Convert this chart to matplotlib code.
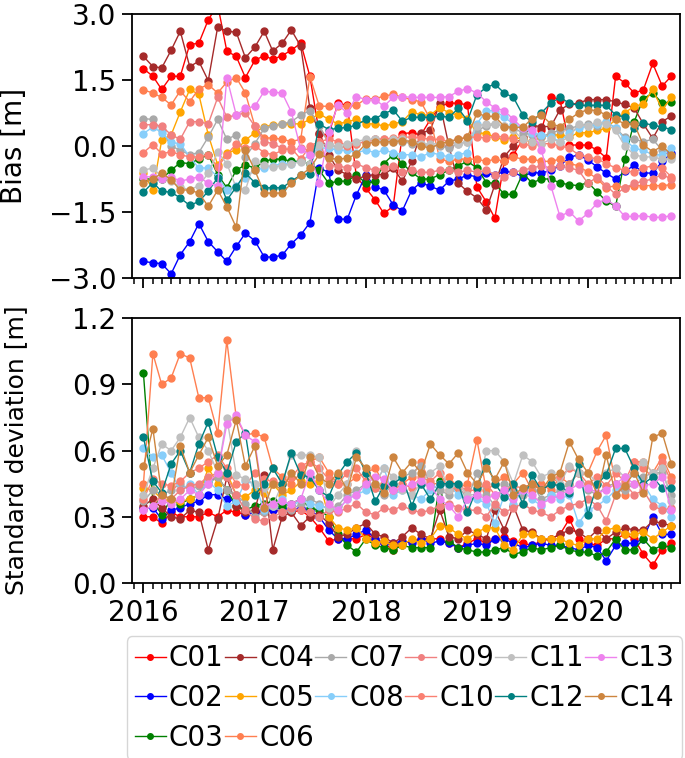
import numpy as np
import pandas as pd
import matplotlib
matplotlib.use("Agg")
import matplotlib.pyplot as plt
import matplotlib.dates as mdates
from datetime import datetime

# monthly values, Jan 2016 .. Oct 2020
months = pd.date_range("2016-01-01", periods=58, freq="MS")

sats = ["C01", "C02", "C03", "C04", "C05", "C06", "C07",
        "C08", "C09", "C10", "C11", "C12", "C13", "C14"]
colors = ["red", "blue", "green", "brown", "orange", "coral", "darkgray",
          "lightskyblue", "lightcoral", "salmon", "silver", "teal", "violet", "peru"]

# ---- bias [m] ----
bias_C01 = [1.75, 1.58, 1.28, 1.58, 1.58, 2.3, 2.33, 2.86, 3.2, 2.15, 2.03, 1.55,
            1.94, 2.05, 1.96, 2.05, 2.17, 2.33, 1.58, 0.28, 0.25, 0.97, 0.92, -0.7,
            -0.96, -1.23, -1.53, -1.37, 0.28, 0.3, 0.25, 0.6, 0.89, 0.97, 0.97, 0.93,
            -0.93, -1.27, -1.64, -0.35, -0.2, 0.15, 0.1, 0.35, 1.12, 1.05, 0.02, 0.02,
            0.02, -0.1, -0.27, 1.58, 1.43, 1.2, 1.27, 1.87, 1.36, 1.58]
bias_C02 = [-2.62, -2.65, -2.67, -2.9, -2.47, -2.17, -1.76, -2.17, -2.4, -2.62, -2.28, -1.98,
            -2.15, -2.52, -2.52, -2.48, -2.22, -2.02, -1.74, -0.5, -0.6, -1.66, -1.66, -1.11,
            -0.66, -0.93, -1.0, -1.34, -1.47, -1.0, -0.83, -0.92, -1.0, -0.8, -0.75, -0.66,
            -0.7, -0.62, -0.66, -0.58, -0.6, -0.7, -0.6, -0.62, -0.55, -0.45, -0.26, -0.2,
            -0.32, -0.48, -0.62, -0.75, -0.58, -0.44, -0.61, -0.62, -0.35, -0.17]
bias_C03 = [-0.75, -0.75, -0.75, -0.55, -0.38, -0.4, -0.3, -0.2, -0.65, -0.95, -0.55, -0.43,
            -0.5, -0.35, -0.3, -0.3, -0.35, -0.35, -0.4, -0.55, -0.85, -0.8, -0.8, -0.65,
            -0.85, -0.8, -0.4, -0.2, -0.4, -0.6, -0.75, -0.75, -0.65, -0.55, -0.45, -0.35,
            -0.5, -0.83, -0.85, -1.1, -1.1, -0.62, -0.84, -0.75, -0.75, -0.84, -0.88, -0.9,
            -0.83, -1.05, -1.25, -1.37, -0.3, 0.55, 1.07, 1.2, 0.97, 1.0]
bias_C04 = [2.03, 1.8, 1.77, 2.17, 2.6, 1.8, 1.92, 1.48, 2.7, 2.6, 2.58, 2.0,
            2.24, 2.6, 2.15, 2.33, 2.63, 2.26, 0.85, 0.3, -0.2, -0.55, -0.65, -0.75,
            -0.68, -0.65, -0.65, -0.5, -0.8, -0.35, 0.3, 0.35, 0.97, 0.0, -0.85, -1.03,
            -1.18, -1.45, -0.88, -0.24, 0.0, 0.2, 0.46, 0.44, 0.44, 0.82, 0.94, 0.97,
            1.05, 1.05, 1.05, 1.0, 0.94, 0.86, 0.5, 0.17, 0.55, 0.68]
bias_C05 = [-0.61, -1.0, 0.13, 0.25, 0.77, 1.28, 1.17, 0.25, -0.43, -0.15, -0.1, 0.13,
            0.3, 0.44, 0.47, 0.5, 0.5, 0.5, 0.6, 0.73, 0.6, 0.5, 0.55, 0.6,
            0.5, 0.5, 0.45, 0.5, 0.55, 0.78, 0.7, 0.7, 0.87, 0.75, 0.7, 0.6,
            0.3, 0.28, 0.2, 0.13, 0.2, 0.15, 0.1, 0.2, 0.25, 0.25, 0.2, 0.3,
            0.3, 0.35, 0.4, 0.6, 0.75, 0.9, 0.95, 1.28, 0.82, 1.1]
bias_C06 = [1.27, 1.2, 1.1, 0.93, 1.25, 1.0, 1.3, 1.39, 1.2, 1.45, 1.55, 1.2,
            0.45, 0.18, 0.18, 0.15, 0.1, 0.15, 1.57, 0.9, 0.9, 0.9, 0.9, 0.92,
            1.07, 1.07, 1.13, 1.17, 1.1, 1.05, 1.0, 0.6, -0.3, -0.35, -0.3, -0.3,
            -0.3, -0.35, -0.3, -0.35, -0.25, -0.3, -0.3, -0.35, -0.35, -0.3, -0.4, -0.45,
            -0.6, -0.75, -0.95, -0.9, -0.95, -0.9, -0.9, -0.9, -0.9, -0.88]
bias_C07 = [0.62, 0.6, 0.35, 0.0, -0.1, -0.2, -0.15, 0.2, 0.6, 0.15, 0.25, -0.25,
            0.05, 0.4, 0.45, 0.5, 0.55, 0.7, 0.8, 0.45, 0.05, -0.05, 0.0, 0.05,
            0.1, 0.15, 0.15, 0.1, 0.1, 0.05, 0.05, 0.0, 0.0, -0.05, 0.05, 0.1,
            0.35, 0.45, 0.5, 0.45, 0.4, 0.3, 0.25, 0.2, 0.3, 0.35, 0.4, 0.45,
            0.5, 0.45, 0.55, 0.4, 0.2, 0.15, 0.1, 0.15, -0.1, -0.25]
bias_C08 = [0.28, 0.43, 0.3, 0.08, 0.05, -0.25, -0.5, -0.5, -0.7, -1.0, -0.9, -0.72,
            -0.55, -0.5, -0.45, -0.4, -0.4, -0.35, -0.2, -0.05, -0.05, -0.1, -0.1, -0.15,
            -0.1, -0.15, -0.1, -0.15, -0.2, -0.2, -0.25, -0.15, -0.2, -0.25, -0.2, -0.15,
            0.5, 0.8, 0.8, 0.65, 0.5, 0.4, 0.3, 0.25, 0.2, 0.1, 0.3, 0.4,
            0.45, 0.5, 0.55, 0.4, 0.15, -0.05, -0.1, -0.2, -0.2, -0.05]
bias_C09 = [0.48, 0.48, 0.45, 0.25, 0.15, 0.55, 0.55, 0.5, 1.1, 0.65, 0.7, 0.75,
            0.45, 0.1, 0.05, -0.05, -0.1, -0.05, -0.1, 0.1, -0.45, -0.45, -0.5, -0.4,
            -0.5, -0.55, -0.5, -0.45, -0.6, -0.55, -0.6, -0.6, -0.55, -0.55, -0.6, -0.55,
            -0.6, -0.55, -0.65, -0.7, -0.6, -0.55, -0.5, -0.45, -0.5, -0.45, -0.5, -0.55,
            -0.85, -0.7, -0.9, -1.1, -0.95, -0.85, -0.8, -0.75, -0.65, -0.75]
bias_C10 = [-0.15, 0.03, -0.18, -0.13, -0.2, -0.25, -0.25, -0.2, -0.48, -0.2, 0.05, -0.05,
            0.0, -0.15, -0.2, -0.1, -0.05, -0.3, 0.0, 0.1, 0.15, 0.1, 0.0, 0.05,
            0.1, 0.15, 0.15, 0.18, 0.2, 0.2, 0.18, 0.15, 0.15, 0.1, 0.15, 0.2,
            0.2, 0.18, 0.22, 0.2, 0.15, 0.05, 0.0, 0.05, 0.05, 0.0, -0.05, -0.2,
            -0.25, -0.3, -0.4, -0.5, -0.55, -0.6, -0.5, -0.45, -0.5, -0.7]
bias_C11 = [-0.55, -0.5, -0.7, -0.8, -0.93, -1.0, -0.9, -0.62, -0.14, -0.4, -0.95, -1.0,
            -0.35, -0.44, -0.47, -0.45, -0.4, -0.36, -0.4, 0.03, 0.02, 0.0, 0.05, 0.1,
            0.15, 0.15, 0.1, 0.15, 0.15, 0.1, 0.05, 0.05, 0.05, 0.1, 0.05, 0.1,
            0.45, 0.5, 0.5, 0.45, 0.35, 0.15, 0.1, 0.05, 0.15, 0.1, 0.2, 0.5,
            0.45, 0.55, 0.5, 0.35, 0.0, -0.2, -0.25, -0.25, -0.3, -0.3]
bias_C12 = [-1.05, -0.83, -1.03, -1.05, -1.18, -1.35, -1.26, -1.03, -0.72, -1.23, -0.93, -0.62,
            -0.83, -0.95, -0.95, -0.95, -0.8, -0.66, -0.63, 0.5, 0.37, 0.4, 0.42, 0.47,
            0.6, 0.62, 0.73, 0.82, 0.56, 0.65, 0.65, 0.65, 0.68, 0.65, 0.85, 0.57,
            1.16, 1.33, 1.4, 1.2, 1.1, 0.7, 0.55, 0.75, 0.97, 1.1, 0.97, 0.92,
            0.92, 0.92, 0.92, 0.7, 0.66, 0.4, 0.52, 0.47, 0.43, 0.37]
bias_C13 = [-0.7, -0.7, -0.75, -0.7, -0.8, -0.75, -0.7, -0.85, -0.9, 1.55, 0.7, 0.85,
            0.9, 1.24, 1.22, 1.2, 0.77, -0.08, -0.2, -0.84, 0.32, 0.93, 0.75, 1.12,
            1.05, 1.05, 0.9, 1.1, 1.12, 1.1, 1.1, 1.1, 1.1, 1.12, 1.24, 1.3,
            1.2, 1.0, 0.86, 0.8, 0.6, 0.4, 0.36, -0.1, -0.9, -1.6, -1.49, -1.7,
            -1.53, -1.29, -1.21, -1.36, -1.6, -1.6, -1.58, -1.62, -1.62, -1.58]
bias_C14 = [-0.83, -0.76, -0.61, -0.77, -1.0, -1.0, -1.07, -1.37, -1.0, -1.38, -1.85, -0.1,
            -0.55, -1.07, -1.07, -1.07, -0.85, -0.66, -0.51, -0.19, -0.28, -0.3, -0.28, -0.18,
            0.05, 0.09, 0.09, 0.1, 0.12, 0.1, 0.0, -0.05, 0.05, 0.1, 0.15, 0.2,
            0.74, 0.67, 0.67, 0.44, 0.42, 0.42, 0.62, 0.7, 0.5, 0.44, 0.6, 0.75,
            0.82, 0.8, 0.7, 0.6, 0.5, 0.5, 0.02, -0.13, 0.0, -0.2]

# ---- standard deviation [m] ----
std_C01 = [0.3, 0.3, 0.27, 0.32, 0.3, 0.3, 0.3, 0.32, 0.3, 0.33, 0.32, 0.31,
           0.32, 0.32, 0.33, 0.33, 0.32, 0.33, 0.3, 0.25, 0.19, 0.2, 0.2, 0.2,
           0.22, 0.2, 0.18, 0.15, 0.18, 0.19, 0.2, 0.2, 0.2, 0.18, 0.16, 0.18,
           0.2, 0.18, 0.2, 0.21, 0.19, 0.18, 0.17, 0.19, 0.2, 0.22, 0.29, 0.2,
           0.18, 0.17, 0.2, 0.2, 0.22, 0.2, 0.13, 0.08, 0.15, 0.18]
std_C02 = [0.34, 0.34, 0.29, 0.33, 0.34, 0.36, 0.37, 0.4, 0.4, 0.38, 0.37, 0.31,
           0.32, 0.33, 0.33, 0.34, 0.33, 0.34, 0.33, 0.3, 0.24, 0.2, 0.2, 0.22,
           0.24, 0.2, 0.18, 0.18, 0.19, 0.18, 0.2, 0.18, 0.19, 0.18, 0.16, 0.17,
           0.18, 0.17, 0.2, 0.2, 0.18, 0.16, 0.17, 0.18, 0.17, 0.17, 0.16, 0.15,
           0.17, 0.16, 0.1, 0.17, 0.18, 0.18, 0.2, 0.3, 0.22, 0.22]
std_C03 = [0.95, 0.37, 0.31, 0.38, 0.36, 0.38, 0.4, 0.46, 0.48, 0.42, 0.35, 0.33,
           0.35, 0.36, 0.37, 0.35, 0.36, 0.38, 0.34, 0.33, 0.3, 0.22, 0.17, 0.14,
           0.2, 0.17, 0.16, 0.15, 0.17, 0.16, 0.16, 0.16, 0.46, 0.19, 0.16, 0.15,
           0.14, 0.14, 0.15, 0.16, 0.13, 0.14, 0.16, 0.15, 0.16, 0.17, 0.15, 0.14,
           0.14, 0.12, 0.14, 0.2, 0.15, 0.15, 0.2, 0.15, 0.17, 0.16]
std_C04 = [0.35, 0.38, 0.34, 0.3, 0.29, 0.33, 0.32, 0.15, 0.29, 0.48, 0.35, 0.32,
           0.33, 0.49, 0.15, 0.3, 0.32, 0.26, 0.3, 0.31, 0.27, 0.21, 0.22, 0.25,
           0.27, 0.22, 0.21, 0.18, 0.21, 0.25, 0.22, 0.2, 0.33, 0.21, 0.2, 0.24,
           0.22, 0.2, 0.33, 0.24, 0.35, 0.24, 0.23, 0.2, 0.2, 0.22, 0.24, 0.23,
           0.2, 0.24, 0.2, 0.23, 0.25, 0.24, 0.24, 0.28, 0.27, 0.26]
std_C05 = [0.43, 0.42, 0.38, 0.37, 0.37, 0.38, 0.4, 0.52, 0.45, 0.5, 0.4, 0.39,
           0.42, 0.41, 0.45, 0.4, 0.42, 0.46, 0.45, 0.46, 0.3, 0.25, 0.24, 0.25,
           0.2, 0.18, 0.19, 0.17, 0.17, 0.2, 0.18, 0.2, 0.26, 0.25, 0.22, 0.2,
           0.23, 0.25, 0.25, 0.17, 0.15, 0.22, 0.22, 0.2, 0.2, 0.2, 0.18, 0.17,
           0.2, 0.2, 0.24, 0.25, 0.22, 0.22, 0.23, 0.2, 0.23, 0.26]
std_C06 = [0.45, 1.04, 0.9, 0.93, 1.04, 1.02, 0.84, 0.84, 0.68, 1.1, 0.75, 0.67,
           0.68, 0.66, 0.52, 0.48, 0.45, 0.5, 0.55, 0.57, 0.5, 0.45, 0.45, 0.48,
           0.5, 0.52, 0.45, 0.42, 0.45, 0.48, 0.55, 0.45, 0.45, 0.48, 0.43, 0.45,
           0.65, 0.42, 0.45, 0.48, 0.45, 0.5, 0.42, 0.45, 0.42, 0.48, 0.45, 0.5,
           0.5, 0.6, 0.67, 0.45, 0.4, 0.55, 0.55, 0.5, 0.57, 0.48]
std_C07 = [0.37, 0.42, 0.4, 0.42, 0.45, 0.42, 0.44, 0.45, 0.48, 0.42, 0.4, 0.36,
           0.3, 0.32, 0.35, 0.32, 0.33, 0.36, 0.38, 0.36, 0.33, 0.35, 0.4, 0.42,
           0.45, 0.43, 0.4, 0.45, 0.48, 0.5, 0.53, 0.45, 0.42, 0.4, 0.44, 0.38,
           0.5, 0.4, 0.35, 0.45, 0.42, 0.4, 0.45, 0.38, 0.4, 0.42, 0.45, 0.5,
           0.42, 0.4, 0.44, 0.45, 0.42, 0.45, 0.48, 0.5, 0.5, 0.4]
std_C08 = [0.61, 0.57, 0.58, 0.5, 0.42, 0.45, 0.4, 0.46, 0.42, 0.35, 0.37, 0.46,
           0.45, 0.33, 0.35, 0.38, 0.34, 0.38, 0.36, 0.35, 0.34, 0.33, 0.38, 0.4,
           0.42, 0.45, 0.52, 0.4, 0.42, 0.4, 0.38, 0.42, 0.45, 0.44, 0.4, 0.38,
           0.38, 0.36, 0.27, 0.4, 0.36, 0.42, 0.38, 0.35, 0.4, 0.38, 0.4, 0.27,
           0.33, 0.35, 0.38, 0.42, 0.45, 0.5, 0.45, 0.38, 0.35, 0.3]
std_C09 = [0.33, 0.35, 0.4, 0.38, 0.42, 0.44, 0.45, 0.48, 0.5, 0.48, 0.4, 0.33,
           0.29, 0.28, 0.3, 0.32, 0.34, 0.33, 0.32, 0.3, 0.33, 0.32, 0.34, 0.36,
           0.32, 0.31, 0.34, 0.33, 0.35, 0.33, 0.32, 0.33, 0.35, 0.36, 0.34, 0.33,
           0.33, 0.3, 0.36, 0.32, 0.34, 0.36, 0.33, 0.32, 0.3, 0.33, 0.35, 0.36,
           0.38, 0.35, 0.28, 0.4, 0.45, 0.4, 0.42, 0.35, 0.33, 0.34]
std_C10 = [0.38, 0.47, 0.45, 0.44, 0.46, 0.5, 0.52, 0.55, 0.58, 0.52, 0.45, 0.44,
           0.5, 0.47, 0.46, 0.45, 0.48, 0.53, 0.55, 0.52, 0.47, 0.45, 0.5, 0.52,
           0.46, 0.43, 0.45, 0.42, 0.45, 0.43, 0.48, 0.46, 0.5, 0.42, 0.44, 0.42,
           0.42, 0.45, 0.4, 0.42, 0.44, 0.43, 0.45, 0.43, 0.45, 0.48, 0.52, 0.5,
           0.45, 0.48, 0.44, 0.5, 0.46, 0.55, 0.52, 0.48, 0.55, 0.46]
std_C11 = [0.4, 0.52, 0.63, 0.6, 0.66, 0.75, 0.66, 0.6, 0.5, 0.75, 0.49, 0.47,
           0.45, 0.43, 0.35, 0.45, 0.58, 0.58, 0.58, 0.57, 0.34, 0.4, 0.45, 0.6,
           0.5, 0.45, 0.52, 0.48, 0.42, 0.4, 0.45, 0.5, 0.53, 0.42, 0.45, 0.4,
           0.4, 0.6, 0.6, 0.55, 0.45, 0.58, 0.55, 0.48, 0.5, 0.45, 0.53, 0.5,
           0.5, 0.45, 0.5, 0.52, 0.48, 0.5, 0.55, 0.5, 0.52, 0.37]
std_C12 = [0.66, 0.46, 0.41, 0.54, 0.6, 0.5, 0.63, 0.73, 0.57, 0.5, 0.64, 0.68,
           0.4, 0.45, 0.52, 0.45, 0.59, 0.49, 0.48, 0.42, 0.39, 0.49, 0.55, 0.59,
           0.5, 0.37, 0.44, 0.45, 0.48, 0.35, 0.45, 0.38, 0.45, 0.45, 0.45, 0.32,
           0.43, 0.55, 0.45, 0.39, 0.45, 0.36, 0.49, 0.42, 0.45, 0.44, 0.41, 0.54,
           0.31, 0.45, 0.49, 0.61, 0.61, 0.52, 0.45, 0.48, 0.43, 0.43]
std_C13 = [0.33, 0.35, 0.37, 0.36, 0.38, 0.42, 0.4, 0.45, 0.5, 0.72, 0.76, 0.67,
           0.64, 0.35, 0.36, 0.37, 0.36, 0.38, 0.5, 0.42, 0.36, 0.33, 0.38, 0.4,
           0.45, 0.48, 0.47, 0.42, 0.43, 0.45, 0.46, 0.44, 0.38, 0.35, 0.3, 0.38,
           0.4, 0.38, 0.4, 0.42, 0.38, 0.42, 0.4, 0.36, 0.38, 0.4, 0.42, 0.45,
           0.43, 0.41, 0.42, 0.45, 0.48, 0.45, 0.44, 0.45, 0.48, 0.33]
std_C14 = [0.53, 0.7, 0.4, 0.38, 0.62, 0.5, 0.58, 0.66, 0.53, 0.58, 0.74, 0.53,
           0.62, 0.34, 0.45, 0.42, 0.5, 0.45, 0.57, 0.48, 0.45, 0.5, 0.42, 0.57,
           0.52, 0.45, 0.41, 0.57, 0.5, 0.55, 0.5, 0.63, 0.58, 0.54, 0.59, 0.5,
           0.45, 0.52, 0.47, 0.55, 0.4, 0.43, 0.45, 0.42, 0.48, 0.5, 0.64, 0.56,
           0.5, 0.4, 0.58, 0.4, 0.44, 0.5, 0.41, 0.66, 0.68, 0.54]

bias = [bias_C01, bias_C02, bias_C03, bias_C04, bias_C05, bias_C06, bias_C07,
        bias_C08, bias_C09, bias_C10, bias_C11, bias_C12, bias_C13, bias_C14]
std = [std_C01, std_C02, std_C03, std_C04, std_C05, std_C06, std_C07,
       std_C08, std_C09, std_C10, std_C11, std_C12, std_C13, std_C14]

plt.rcParams['font.family'] = ['DejaVu Sans']
plt.rcParams['axes.linewidth'] = 1.3

fig = plt.figure(figsize=(6.85, 7.58), dpi=100)
ax1 = fig.add_axes([0.193, 0.633, 0.799, 0.349])
ax2 = fig.add_axes([0.193, 0.231, 0.799, 0.349])

for name, c, b, s in zip(sats, colors, bias, std):
    ax1.plot(months, b, '-o', color=c, lw=1.0, ms=5, label=name)
    ax2.plot(months, s, '-o', color=c, lw=1.0, ms=5, label=name)

for ax in (ax1, ax2):
    ax.set_xlim(datetime(2015, 11, 25), datetime(2020, 10, 28))
    ax.xaxis.set_major_locator(mdates.YearLocator())
    ax.xaxis.set_major_formatter(mdates.DateFormatter('%Y'))
    ax.xaxis.set_minor_locator(mdates.MonthLocator())
    ax.tick_params(axis='both', which='major', labelsize=20, length=7, width=1.3, pad=4.5)
    ax.tick_params(axis='x', which='minor', length=4, width=1.1)

# default scalar formatter keeps the unicode minus sign
ax1.set_ylim(-3, 3)
ax1.set_yticks([-3.0, -1.5, 0.0, 1.5, 3.0])
ax1.tick_params(axis='x', labelbottom=False)
ax1.set_ylabel('Bias [m]', fontsize=20)
ax1.yaxis.set_label_coords(-0.19, 0.5)

ax2.set_ylim(0, 1.2)
ax2.set_yticks([0.0, 0.3, 0.6, 0.9, 1.2])
ax2.set_ylabel('Standard deviation [m]', fontsize=18)
ax2.yaxis.set_label_coords(-0.19, 0.5)

handles, labels = ax2.get_legend_handles_labels()
fig.legend(handles, labels, loc='upper left', ncol=6, mode='expand',
           bbox_to_anchor=(0.185, 0.161, 0.811, 0.0), fontsize=20,
           handlelength=1.1, handletextpad=0.12, columnspacing=0.2,
           labelspacing=0.42, borderpad=0.3, borderaxespad=0.0,
           markerscale=0.8, edgecolor='0.8')

fig.savefig('out.png', dpi=100)
